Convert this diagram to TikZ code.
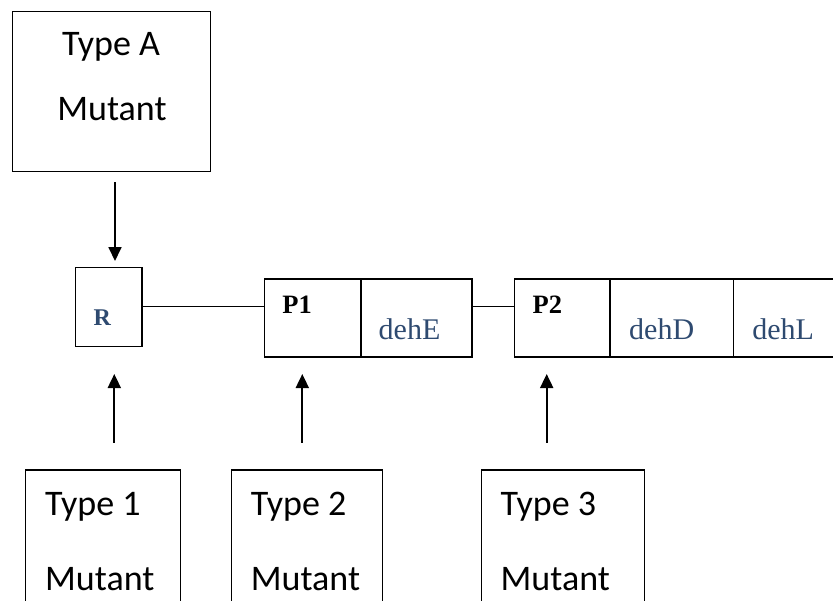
\documentclass[tikz,border=0pt]{standalone}
\usepackage{fontspec}
\setmainfont{Liberation Serif}
\newfontfamily\calib{Carlito}
\usetikzlibrary{arrows.meta}
\definecolor{geneblue}{RGB}{46,74,112}
\begin{document}
\begin{tikzpicture}[x=1pt,y=-1pt,
  boxst/.style={draw,line width=1.3pt,inner sep=0pt},
  lbl/.style={inner sep=0pt,anchor=base west,font=\calib\fontsize{36}{40}\selectfont},
  lblc/.style={inner sep=0pt,anchor=base,font=\calib\fontsize{36}{40}\selectfont},
  pname/.style={inner sep=0pt,anchor=base west,font=\bfseries\fontsize{26.5}{28}\selectfont},
  gname/.style={inner sep=0pt,anchor=base west,text=geneblue,font=\fontsize{30}{32}\selectfont},
  arr/.style={line width=1.8pt,-{Triangle[length=14pt,width=13pt]}},
  conn/.style={line width=1.1pt}]
\useasboundingbox (0,0) rectangle (833,600);
\clip (0,0) rectangle (833,600);
% boxes
\node[boxst,minimum width=198pt,minimum height=160pt] (A) at (111.7,91.7) {};
\node[boxst,minimum width=66.3pt,minimum height=78.6pt] (R) at (108.85,307) {};
\node[boxst,minimum width=96.7pt,minimum height=78pt] (P1) at (312.65,318) {};
\node[boxst,minimum width=111pt,minimum height=78pt] (E) at (416.5,318) {};
\node[boxst,minimum width=95.7pt,minimum height=78pt] (P2) at (562.15,318) {};
\node[boxst,minimum width=123.3pt,minimum height=78pt] (D) at (671.65,318) {};
\node[boxst,minimum width=166.7pt,minimum height=78pt] (L) at (816.65,318) {};
\node[boxst,minimum width=155pt,minimum height=170pt] (B1) at (103.2,555) {};
\node[boxst,minimum width=150.6pt,minimum height=170pt] (B2) at (307,555) {};
\node[boxst,minimum width=162.6pt,minimum height=170pt] (B3) at (563,555) {};
% texts
\node[lblc] (tA) at (111,55) {Type A};
\node[lblc] (mA) at (112,120) {Mutant};
\node[lbl] (t1) at (45,515) {Type 1};
\node[lbl] (m1) at (45,590) {Mutant};
\node[lbl] (t2) at (250.7,515) {Type 2};
\node[lbl] (m2) at (250.7,590) {Mutant};
\node[lbl] (t3) at (500.5,515) {Type 3};
\node[lbl] (m3) at (500.5,590) {Mutant};
\node[inner sep=0pt,anchor=base west,text=geneblue,font=\bfseries\fontsize{24}{26}\selectfont] (tR) at (93.5,325) {R};
\node[pname] (tP1) at (282.2,313.3) {P1};
\node[pname] (tP2) at (532.5,313.3) {P2};
\node[gname] (tE) at (378.5,339.3) {dehE};
\node[gname] (tD) at (629,339.3) {dehD};
\node[gname] (tL) at (752.2,339.3) {dehL};
% connectors
\draw[conn] ([yshift=0.3pt]R.east) -- ([yshift=0.3pt]R.east -| P1.west);
\draw[conn] ([yshift=0.3pt]R.east -| E.east) -- ([yshift=0.3pt]R.east -| P2.west);
% arrows
\coordinate (a0) at (115,182);
\coordinate (a1) at (115,261);
\draw[arr] (a0) -- (a1);
\coordinate (b1) at (114.3,442.7);
\coordinate (b1t) at (114.3,374);
\draw[arr] (b1) -- (b1t);
\coordinate (b2) at (302.3,442.7);
\coordinate (b2t) at (302.3,374);
\draw[arr] (b2) -- (b2t);
\coordinate (b3) at (546.7,442.7);
\coordinate (b3t) at (546.7,374);
\draw[arr] (b3) -- (b3t);
\end{tikzpicture}
\end{document}
